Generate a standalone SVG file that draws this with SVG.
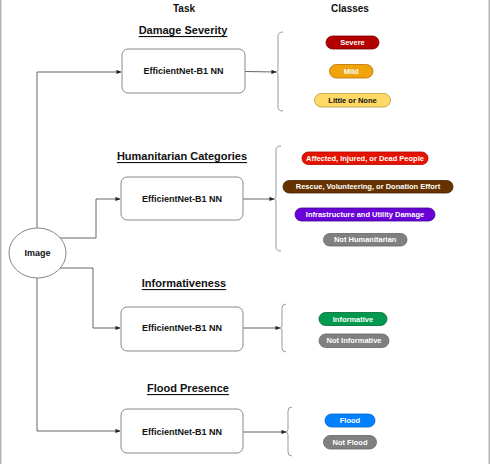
<svg xmlns="http://www.w3.org/2000/svg" width="490" height="464" viewBox="0 0 490 464">
  <defs>
    <marker id="arr" viewBox="0 0 6 6" refX="5.5" refY="3" markerWidth="5" markerHeight="5" orient="auto" markerUnits="userSpaceOnUse">
      <path d="M0,0.5 L6,3 L0,5.5 Z" fill="#222"/>
    </marker>
    <style>
      text { font-family: "Liberation Sans", Arial, sans-serif; font-weight: bold; text-anchor: middle; dominant-baseline: central; }
      .head { font-size: 10px; fill: #111; }
      .task { font-size: 11px; fill: #111; text-decoration: underline; }
      .nn { font-size: 9px; fill: #111; }
      .pill { font-size: 7.5px; fill: #fff; }
      .box { fill: #fff; stroke: #8a8a8a; stroke-width: 1; }
      .conn { fill: none; stroke: #555; stroke-width: 0.9; }
      .brace { fill: none; stroke: #999; stroke-width: 1; }
    </style>
  </defs>

  <rect x="0" y="0" width="490" height="464" fill="#fff"/>
  <!-- frame edges -->
  <line x1="0.75" y1="0" x2="0.75" y2="464" stroke="#b3b3b3" stroke-width="1.5"/>
  <line x1="489.25" y1="0" x2="489.25" y2="464" stroke="#b3b3b3" stroke-width="1.5"/>

  <!-- column headers -->
  <text class="head" x="184" y="8">Task</text>
  <text class="head" x="350" y="8">Classes</text>

  <!-- task titles -->
  <text class="task" x="183" y="30">Damage Severity</text>
  <text class="task" x="182" y="156">Humanitarian Categories</text>
  <text class="task" x="184" y="283">Informativeness</text>
  <text class="task" x="188" y="388">Flood Presence</text>

  <g id="connectors">
    <path class="conn" d="M37,228 L37,72 L121,72" marker-end="url(#arr)"/>
    <path class="conn" d="M60,238 L96,238 L96,199 L120,199" marker-end="url(#arr)"/>
    <path class="conn" d="M60,268 L93,268 L93,328 L120,328" marker-end="url(#arr)"/>
    <path class="conn" d="M37,278 L37,431 L120,431" marker-end="url(#arr)"/>
    <path class="conn" d="M245,71.5 L276,72" marker-end="url(#arr)"/>
    <path class="conn" d="M243,199 L274,199" marker-end="url(#arr)"/>
    <path class="conn" d="M243,328 L280,328" marker-end="url(#arr)"/>
    <path class="conn" d="M243,432 L286,432" marker-end="url(#arr)"/>
  </g>

  <g id="image">
    <ellipse cx="37.5" cy="253" rx="28.5" ry="25" fill="#fff" stroke="#777" stroke-width="0.9"/>
    <text class="nn" x="37.5" y="253">Image</text>
  </g>

  <g id="damage-nn">
    <rect class="box" x="122" y="49" width="123" height="44" rx="6"/>
    <text class="nn" x="183.5" y="71">EfficientNet-B1 NN</text>
  </g>
  <g id="humanitarian-nn">
    <rect class="box" x="121" y="177" width="122" height="43" rx="6"/>
    <text class="nn" x="182" y="199">EfficientNet-B1 NN</text>
  </g>
  <g id="informative-nn">
    <rect class="box" x="121" y="307" width="122" height="44" rx="6"/>
    <text class="nn" x="182" y="328">EfficientNet-B1 NN</text>
  </g>
  <g id="flood-nn">
    <rect class="box" x="121" y="409" width="122" height="44" rx="6"/>
    <text class="nn" x="182" y="432">EfficientNet-B1 NN</text>
  </g>

  <!-- class brackets -->
  <g id="brace-damage">
    <path class="brace" d="M283,32 Q278,32 278,36 L278,69 Q278,72 276,72 Q278,72 278,75 L278,107 Q278,111 283,111"/>
  </g>
  <g id="brace-humanitarian">
    <path class="brace" d="M281,146 Q276,146 276,150 L276,196 Q276,199 274,199 Q276,199 276,202 L276,247 Q276,251 281,251"/>
  </g>
  <g id="brace-informative">
    <path class="brace" d="M286,304 Q282,304 282,308 L282,325 Q282,328 280,328 Q282,328 282,331 L282,348 Q282,352 286,352"/>
  </g>
  <g id="brace-flood">
    <path class="brace" d="M292,407 Q288,407 288,411 L288,429 Q288,432 286,432 Q288,432 288,435 L288,452 Q288,456 292,456"/>
  </g>

  <!-- class labels -->
  <g id="severe">
    <rect x="326" y="36" width="53" height="13" rx="6.5" fill="#B20000" stroke="#7a0000" stroke-width="0.8"/>
    <text class="pill" x="352.5" y="42.7">Severe</text>
  </g>
  <g id="mild">
    <rect x="329.5" y="64.5" width="43.5" height="13.5" rx="6.75" fill="#F0A30A" stroke="#BD7000" stroke-width="0.8"/>
    <text class="pill" x="351.2" y="71.4">Mild</text>
  </g>
  <g id="little-or-none">
    <rect x="314.5" y="93.5" width="76" height="13.5" rx="6.75" fill="#FFD966" stroke="#B89A3A" stroke-width="0.8"/>
    <text class="pill" x="352.5" y="100.4" style="fill:#111">Little or None</text>
  </g>

  <g id="affected">
    <rect x="302" y="152" width="126" height="12.5" rx="6.25" fill="#E51400" stroke="#B20000" stroke-width="0.8"/>
    <text class="pill" x="365" y="158.4">Affected, Injured, or Dead People</text>
  </g>
  <g id="rescue">
    <rect x="283" y="180.5" width="170" height="12.5" rx="6.25" fill="#663300" stroke="#3d1f00" stroke-width="0.8"/>
    <text class="pill" x="368" y="186.9">Rescue, Volunteering, or Donation Effort</text>
  </g>
  <g id="infrastructure">
    <rect x="295" y="208" width="140" height="13" rx="6.5" fill="#6A00D8" stroke="#3f0090" stroke-width="0.8"/>
    <text class="pill" x="365" y="214.6">Infrastructure and Utility Damage</text>
  </g>
  <g id="not-humanitarian">
    <rect x="323.5" y="233.5" width="83.5" height="12.5" rx="6.25" fill="#808080" stroke="#666" stroke-width="0.8"/>
    <text class="pill" x="365.2" y="239.9">Not Humanitarian</text>
  </g>

  <g id="informative">
    <rect x="319" y="312.5" width="68" height="13" rx="6.5" fill="#00994D" stroke="#006633" stroke-width="0.8"/>
    <text class="pill" x="353" y="319.1">Informative</text>
  </g>
  <g id="not-informative">
    <rect x="319" y="334" width="70" height="13.5" rx="6.75" fill="#808080" stroke="#666" stroke-width="0.8"/>
    <text class="pill" x="354" y="340.9">Not Informative</text>
  </g>

  <g id="flood">
    <rect x="325" y="414" width="50" height="13" rx="6.5" fill="#007FFF" stroke="#0066CC" stroke-width="0.8"/>
    <text class="pill" x="350" y="420.6">Flood</text>
  </g>
  <g id="not-flood">
    <rect x="323.5" y="435.5" width="53" height="13.5" rx="6.75" fill="#808080" stroke="#666" stroke-width="0.8"/>
    <text class="pill" x="350" y="442.4">Not Flood</text>
  </g>
</svg>
